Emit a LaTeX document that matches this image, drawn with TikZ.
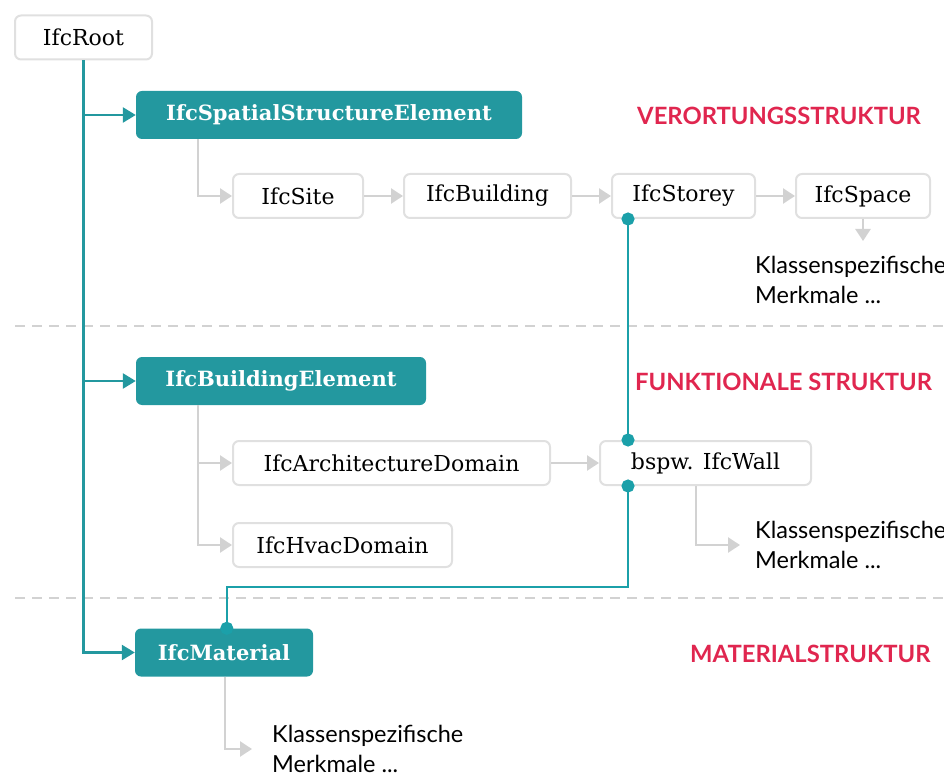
\documentclass[tikz,border=0pt]{standalone}
\usepackage{fontspec}
\setmainfont{DejaVu Serif}
\newfontfamily\latofont{Lato}
\usetikzlibrary{arrows.meta}
\definecolor{ifcteal}{HTML}{23989F}
\definecolor{ifcdot}{HTML}{1BA0A9}
\definecolor{ifcred}{HTML}{E0264F}
\definecolor{ifcgray}{HTML}{D2D2D2}
\definecolor{ifcframe}{HTML}{E0E0E0}
\tikzset{
  classbox/.style={draw=ifcframe, line width=2pt, rounded corners=6pt, fill=white,
    minimum height=44pt, inner sep=0pt, font=\fontsize{22}{25}\selectfont},
  basebox/.style={fill=ifcteal, rounded corners=6pt, minimum height=48pt, inner sep=0pt,
    text=white, font=\fontsize{21}{24}\selectfont\bfseries},
  layerlabel/.style={anchor=west, inner sep=0pt, text=ifcred,
    font=\latofont\bfseries\fontsize{23.8}{26}\selectfont},
  featuretext/.style={anchor=west, align=left, inner sep=0pt,
    font=\latofont\fontsize{23.5}{30.5}\selectfont},
  inherit/.style={draw=ifcteal, line width=2.5pt, -{Triangle[length=13pt,width=15pt]}},
  subclass/.style={draw=ifcgray, line width=2.5pt, -{Triangle[length=12pt,width=15pt]}},
  link/.style={draw=ifcdot, line width=2.5pt, {Circle[length=13pt]}-{Circle[length=13pt]},
    shorten <=-6.5pt, shorten >=-6.5pt},
  layersep/.style={draw=ifcgray, line width=2pt, dash pattern=on 10pt off 7pt}
}
\begin{document}
\begin{tikzpicture}[x=1pt,y=-1pt]
\useasboundingbox (0,0) rectangle (944,775);

% layer borders
\draw[layersep] (15,326) -- (944,326);
\draw[layersep] (15,598) -- (944,598);

\node[classbox, minimum width=137pt] (root) at (83.5,37.5) {IfcRoot};
\node[basebox, minimum width=386pt] (spatial) at (329,115) {IfcSpatialStructureElement};
\node[basebox, minimum width=290pt] (element) at (281,381) {IfcBuildingElement};
\node[basebox, minimum width=178pt] (material) at (224,652.5) {IfcMaterial};

\node[classbox, minimum width=130pt] (site) at (298,196) {IfcSite};
\node[classbox, minimum width=167pt] (building) at (487.5,196) {IfcBuilding};
\node[classbox, minimum width=143pt] (storey) at (683.5,196) {IfcStorey};
\node[classbox, minimum width=134pt] (space) at (863,196) {IfcSpace};

\node[classbox, minimum width=317pt] (arch) at (391.5,463) {IfcArchitectureDomain};
\node[classbox, minimum width=219pt] (hvac) at (342.5,545) {IfcHvacDomain};
\node[classbox, minimum width=211pt] (wall) at (705.5,463) {bspw. IfcWall};

\node[layerlabel] (lblspatial) at (637,116) {VERORTUNGSSTRUKTUR};
\node[layerlabel] (lblfunction) at (635,382) {FUNKTIONALE STRUKTUR};
\node[layerlabel] (lblmaterial) at (690,654) {MATERIALSTRUKTUR};

\node[featuretext] (spacefeat) at (755,280) {Klassenspezifische\\Merkmale ...};
\node[featuretext] (wallfeat) at (755,545) {Klassenspezifische\\Merkmale ...};
\node[featuretext] (matfeat) at (272,749) {Klassenspezifische\\Merkmale ...};

% inheritance from IfcRoot
\draw[inherit] (root.south) |- (material.west);
\draw[inherit] (root.south |- spatial.west) -- (spatial.west);
\draw[inherit] (root.south |- element.west) -- (element.west);

% spatial chain
\draw[subclass] ([xshift=62pt]spatial.south west) |- (site.west);
\draw[subclass] (site) -- (building);
\draw[subclass] (building) -- (storey);
\draw[subclass] (storey) -- (space);
\draw[subclass] (space.south) -- ++(0,22);

% building elements
\draw[subclass] ([xshift=62pt]element.south west) |- (arch.west);
\draw[subclass] ([xshift=62pt]element.south west) |- (hvac.west);
\draw[subclass] (arch) -- (wall);
\draw[subclass, shorten >=15pt] ([xshift=97pt]wall.south west) |- (wallfeat.west);
\draw[subclass, shorten >=20pt] ([xshift=90pt]material.south west) |- (matfeat.west);

% relations
\draw[link] ([xshift=17pt]storey.south west) -- ([xshift=29pt]wall.north west);
\draw[link] ([xshift=29pt]wall.south west) -- ++(0,101) -| ([xshift=92pt]material.north west);
\end{tikzpicture}
\end{document}
